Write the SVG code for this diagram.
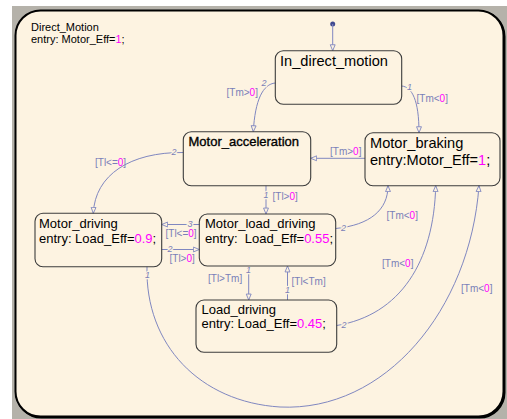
<svg xmlns="http://www.w3.org/2000/svg" width="507" height="419" viewBox="0 0 507 419">
<defs>
<style>
.box{fill:none;stroke:#3c3c3c;stroke-width:1.1}
.t{font-family:"Liberation Sans",Arial,sans-serif;fill:#000}
.big{font-size:14.6px}
.mid{font-size:13px}
.tr{fill:none;stroke:#8087c0;stroke-width:1}
.lbl{font-family:"Liberation Sans",Arial,sans-serif;font-size:10px;fill:#7a80b8}
.num{font-family:"Liberation Sans",Arial,sans-serif;font-size:9px;fill:#7a80b8;font-style:italic;paint-order:stroke;stroke:#fdf3e1;stroke-width:2.5}
.m{fill:#ff00ff}
</style>
<marker id="ah" viewBox="0 0 10 10" refX="9.5" refY="5" markerWidth="7" markerHeight="7" orient="auto" markerUnits="userSpaceOnUse">
<path d="M1,1.5 L9.5,5 L1,8.5 Z" fill="#fdf3e1" stroke="#8087c0" stroke-width="1.3"/>
</marker>
</defs>
<rect x="0" y="0" width="507" height="419" fill="#ffffff"/>
<rect x="12" y="6" width="495" height="413" fill="#b5b2aa"/>
<g id="Direct_Motion">
<rect x="16.5" y="11.5" width="488" height="406" rx="25" ry="25" fill="none" stroke="#000" stroke-width="2"/>
<rect x="15.5" y="10.5" width="488" height="406" rx="25" ry="25" fill="#fdf3e1" stroke="#000" stroke-width="2"/>
<text class="t" x="31" y="31" font-size="11">Direct_Motion</text>
<text class="t" x="31" y="43" font-size="11">entry: Motor_Eff=<tspan class="m">1</tspan>;</text>
</g>
<g id="connectors">
<circle cx="332.7" cy="24" r="2.5" fill="#404a90"/>
<path class="tr" d="M332.7,24 L332.7,50.7" marker-end="url(#ah)"/>
<path class="tr" d="M275.3,83 C263,84 255,100 253.3,131.7" marker-end="url(#ah)"/>
<path class="tr" d="M401.7,86 C412,87 419,100 419,132.7" marker-end="url(#ah)"/>
<path class="tr" d="M365,158.3 L310.7,158.3" marker-end="url(#ah)"/>
<path class="tr" d="M183.3,152.5 C130,152 95,175 93.3,213.3" marker-end="url(#ah)"/>
<path class="tr" d="M266,185.7 L266,214" marker-end="url(#ah)"/>
<path class="tr" d="M199.3,224.5 L161.7,224.5" marker-end="url(#ah)"/>
<path class="tr" d="M161.7,249.5 L199.3,249.5" marker-end="url(#ah)"/>
<path class="tr" d="M335.7,228.5 C370,225 388,210 388,185.7" marker-end="url(#ah)"/>
<path class="tr" d="M248.7,266 L248.7,300" marker-end="url(#ah)"/>
<path class="tr" d="M287.5,300 L287.5,266" marker-end="url(#ah)"/>
<path class="tr" d="M336.7,325.5 C400,315 434,262 435.7,185.7" marker-end="url(#ah)"/>
<path class="tr" d="M147,266.7 C145,345 200,402 280,407 C385,412 470,310 479,185.7" marker-end="url(#ah)"/>
<text class="num" x="261.5" y="86">2</text>
<text class="num" x="407" y="90">1</text>
<text class="num" x="171.5" y="155">2</text>
<text class="num" x="263.5" y="198">1</text>
<text class="num" x="187.5" y="227">3</text>
<text class="num" x="167.5" y="252">2</text>
<text class="num" x="341" y="231">2</text>
<text class="num" x="246" y="273">1</text>
<text class="num" x="285" y="293">1</text>
<text class="num" x="341.5" y="328">2</text>
<text class="num" x="145" y="278">1</text>
<text class="lbl" x="226.5" y="96">[Tm&gt;<tspan class="m">0</tspan>]</text>
<text class="lbl" x="416.5" y="102">[Tm&lt;<tspan class="m">0</tspan>]</text>
<text class="lbl" x="330" y="154.5">[Tm&gt;<tspan class="m">0</tspan>]</text>
<text class="lbl" x="95" y="165.5">[Tl&lt;=<tspan class="m">0</tspan>]</text>
<text class="lbl" x="272.5" y="199.5">[Tl&gt;<tspan class="m">0</tspan>]</text>
<text class="lbl" x="165.5" y="236.5">[Tl&lt;=<tspan class="m">0</tspan>]</text>
<text class="lbl" x="169.5" y="261.5">[Tl&gt;<tspan class="m">0</tspan>]</text>
<text class="lbl" x="386.5" y="218.5">[Tm&lt;<tspan class="m">0</tspan>]</text>
<text class="lbl" x="208" y="282">[Tl&gt;Tm]</text>
<text class="lbl" x="291.5" y="285">[Tl&lt;Tm]</text>
<text class="lbl" x="382" y="267">[Tm&lt;<tspan class="m">0</tspan>]</text>
<text class="lbl" x="461" y="292">[Tm&lt;<tspan class="m">0</tspan>]</text>
</g>
<g id="In_direct_motion">
<rect class="box" x="275.3" y="50.7" width="126.4" height="53.6" rx="8"/>
<text class="t big" x="280" y="66">In_direct_motion</text>
</g>
<g id="Motor_acceleration">
<rect class="box" x="183.3" y="131.7" width="127.4" height="54" rx="8"/>
<text class="t mid" x="188.5" y="146" stroke="#000" stroke-width="0.35">Motor_acceleration</text>
</g>
<g id="Motor_braking">
<rect class="box" x="365" y="132.7" width="135" height="53" rx="8"/>
<text class="t big" x="370" y="148.3">Motor_braking</text>
<text class="t big" x="370" y="165">entry:Motor_Eff=<tspan class="m">1</tspan>;</text>
</g>
<g id="Motor_driving">
<rect class="box" x="35" y="213.3" width="126.7" height="53.4" rx="8"/>
<text class="t mid" x="39" y="228.3">Motor_driving</text>
<text class="t mid" x="39" y="242.7">entry: Load_Eff=<tspan class="m">0.9</tspan>;</text>
</g>
<g id="Motor_load_driving">
<rect class="box" x="199.3" y="214" width="136.4" height="52" rx="8"/>
<text class="t mid" x="205" y="228.3">Motor_load_driving</text>
<text class="t mid" x="205" y="243.3" xml:space="preserve">entry:  Load_Eff=<tspan class="m">0.55</tspan>;</text>
</g>
<g id="Load_driving">
<rect class="box" x="196" y="300" width="140.7" height="52.3" rx="8"/>
<text class="t mid" x="201.5" y="314.3">Load_driving</text>
<text class="t mid" x="201.5" y="328.3">entry: Load_Eff=<tspan class="m">0.45</tspan>;</text>
</g>
</svg>
